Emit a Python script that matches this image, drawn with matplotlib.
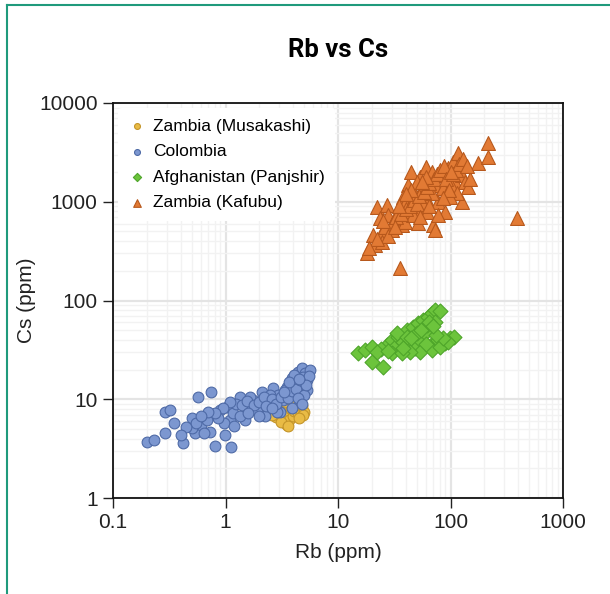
import numpy as np
import matplotlib
matplotlib.use("Agg")
import matplotlib.pyplot as plt
from matplotlib.lines import Line2D
from matplotlib.ticker import LogLocator, FixedLocator, NullFormatter

plt.rcParams['font.family'] = ['Liberation Sans', 'DejaVu Sans']

# Zambia (Musakashi)
musakashi_rb = [1.65, 1.9, 2.1, 2.2, 2.4, 2.5, 2.7, 2.8, 2.9, 3.0, 3.2, 3.3, 3.4, 3.5,
                3.6, 3.7, 3.8, 3.9, 4.0, 4.1, 4.3, 4.4, 4.6, 4.8, 5.0, 4.9, 3.1, 2.6,
                3.4, 4.2, 1.8, 2.3, 3.6, 4.5]
musakashi_cs = [8.4, 7.6, 8.2, 6.9, 7.3, 8.6, 7.9, 6.6, 9.2, 7.2, 8.5, 6.4, 5.8, 5.5,
                7.0, 6.1, 8.0, 9.0, 6.8, 7.6, 8.3, 7.2, 7.9, 8.6, 7.5, 6.9, 5.9, 7.0,
                9.3, 9.5, 8.9, 7.8, 5.3, 6.4]

# Colombia
colombia_rb = [0.20, 0.23, 0.29, 0.29, 0.32, 0.42, 0.50, 0.54, 0.57, 0.61, 0.75, 0.73,
               0.81, 0.75, 0.89, 0.99, 1.13, 1.03, 1.10, 1.17, 1.35, 1.49, 1.65, 1.77,
               2.1, 2.32, 2.24, 2.66, 2.95, 3.05, 3.5, 3.74, 3.88, 4.29, 4.44, 4.76,
               5.09, 5.6, 4.92, 4.59, 3.88, 2.85, 3.26, 5.27, 4.29, 1.35, 0.96, 0.86,
               0.68, 0.64, 0.50, 0.55, 1.65, 2.49, 1.89, 4.0,
               1.25, 1.4, 1.55, 1.8, 2.0, 2.2, 2.6, 2.8, 3.1, 3.4, 3.6, 3.9, 4.2, 4.6,
               4.9, 5.3, 4.1, 3.7, 3.3, 2.3, 1.1, 0.95, 0.8, 0.7, 0.6, 0.45, 0.4, 0.35,
               1.2, 1.6, 2.0, 2.6, 5.0, 4.4, 4.8, 5.5, 5.2, 4.5]
colombia_cs = [3.7, 3.9, 4.5, 7.5, 7.8, 3.6, 6.4, 4.5, 10.6, 5.5, 11.9, 4.7,
               3.4, 6.9, 7.8, 4.3, 3.3, 8.4, 6.2, 7.2, 10.6, 6.2, 8.4, 9.8,
               11.9, 9.8, 6.7, 12.9, 11.0, 7.5, 13.4, 11.5, 16.3, 14.5, 19.0, 20.5,
               18.3, 20.0, 13.4, 9.4, 8.1, 7.5, 9.8, 12.4, 11.5, 6.7, 5.7, 6.4,
               6.2, 4.5, 5.1, 5.7, 10.6, 11.0, 7.8, 13.4,
               9.0, 8.8, 9.5, 8.7, 9.3, 10.5, 10.0, 9.0, 10.5, 12.3, 10.4, 12.0, 12.8, 15.5,
               16.8, 15.8, 17.5, 14.8, 11.8, 8.6, 9.3, 8.2, 7.3, 7.5, 6.7, 5.2, 4.3, 5.7,
               5.4, 7.3, 6.8, 8.2, 11.0, 10.2, 8.9, 17.0, 14.0, 16.0]

# Afghanistan (Panjshir)
panjshir_rb = [15.1, 17.4, 19.9, 19.9, 25.3, 27.1, 30.0, 32.1, 34.4, 38.0, 40.8, 43.6,
               46.7, 48.3, 51.7, 53.5, 57.3, 59.3, 63.5, 68.0, 72.8, 80.0, 53.5, 43.6,
               70.3, 78.0, 89.3, 99.0, 108.0, 68.0, 80.7, 50.0, 33.2, 30.0, 36.8, 61.4,
               72.8, 40.8, 45.0, 55.0, 65.0, 38.0, 60.0, 95.0, 85.0, 75.0, 70.0, 24.0,
               22.0, 28.0]
panjshir_cs = [29.2, 31.5, 34.1, 24.0, 21.4, 35.4, 39.8, 34.1, 43.0, 38.3, 50.2, 36.9,
               54.3, 32.8, 58.7, 39.8, 63.5, 46.5, 68.6, 74.0, 80.0, 78.0, 30.3, 30.3,
               36.9, 39.8, 36.9, 41.4, 43.0, 31.5, 34.1, 46.5, 46.5, 29.2, 29.2, 56.5,
               61.0, 43.0, 42.0, 50.0, 60.0, 33.0, 36.0, 38.0, 42.0, 45.0, 55.0, 32.0,
               30.0, 31.0]

# Zambia (Kafubu)
kafubu_rb = [18.0, 35.6, 22.0, 27.0, 23.6, 28.0, 32.0, 24.5, 30.0, 36.8, 42.0, 43.6,
             42.0, 45.0, 53.5, 61.0, 68.0, 48.0, 55.5, 61.0, 73.0, 51.7, 61.4, 70.0,
             72.8, 51.7, 78.0, 86.0, 83.5, 95.6, 106.0, 117.0, 110.0, 102.0, 126.0, 135.0,
             144.0, 126.0, 114.0, 99.0, 89.0, 78.0, 68.0, 177.0, 217.0, 217.0, 20.6, 21.3,
             24.5, 39.4, 34.4, 46.7, 55.5, 50.0, 38.0, 39.4, 387.0,
             30.0, 33.0, 36.0, 40.0, 44.0, 47.0, 50.0, 52.0, 58.0, 62.0, 65.0, 72.0,
             76.0, 80.0, 88.0, 92.0, 96.0, 105.0, 112.0, 120.0, 130.0, 60.0, 56.0, 45.0,
             40.0, 35.0, 26.0, 28.0, 22.0, 19.0, 25.0, 32.0, 54.0, 64.0, 85.0, 100.0,
             150.0, 140.0]
kafubu_cs = [300, 212, 890, 930, 680, 734, 680, 497, 517, 582, 764, 1000,
             1480, 2000, 1790, 2260, 2010, 1170, 1370, 1084, 1480, 825, 793, 582,
             517, 605, 1000, 1368, 1866, 2180, 2550, 3100, 1600, 1480, 1866, 1600,
             1420, 1000, 1218, 1125, 793, 734, 1218, 2450, 2860, 3900, 460, 365,
             394, 628, 793, 734, 1000, 1596, 1125, 964, 680,
             600, 700, 750, 850, 900, 1050, 950, 1150, 1250, 1400, 1550, 1700,
             1900, 2100, 2300, 1700, 1300, 1900, 2100, 2400, 2700, 1800, 1600, 1300,
             1200, 900, 560, 450, 420, 340, 640, 560, 700, 900, 1100, 2000,
             1700, 2300]

x_ticks = [0.1, 1, 10, 100, 1000]
x_tick_labels = ['0.1', '1', '10', '100', '1000']
y_ticks = [1, 10, 100, 1000, 10000]
y_tick_labels = ['1', '10', '100', '1000', '10000']

fig = plt.figure(figsize=(6.1, 5.94), dpi=100)
ax = fig.add_axes([113 / 610, 1 - 498 / 594, 450 / 610, 395 / 594])

ax.scatter(musakashi_rb, musakashi_cs, s=60, marker='o', facecolor='#e9bb45',
           edgecolor='#c4952a', linewidth=0.8, label='Zambia (Musakashi)', zorder=3)
ax.scatter(colombia_rb, colombia_cs, s=60, marker='o', facecolor='#7c97d0',
           edgecolor='#4e6aa6', linewidth=0.8, label='Colombia', zorder=3)
ax.scatter(panjshir_rb, panjshir_cs, s=58, marker='D', facecolor='#6cc43c',
           edgecolor='#4ea52a', linewidth=0.8, label='Afghanistan (Panjshir)', zorder=3)
ax.scatter(kafubu_rb, kafubu_cs, s=100, marker='^', facecolor='#e27a34',
           edgecolor='#b7581c', linewidth=0.8, label='Zambia (Kafubu)', zorder=3)

ax.set_xscale('log')
ax.set_yscale('log')
ax.set_xlim(0.1, 1000)
ax.set_ylim(1, 10000)

ax.xaxis.set_major_locator(FixedLocator(x_ticks))
ax.yaxis.set_major_locator(FixedLocator(y_ticks))
ax.set_xticklabels(x_tick_labels)
ax.set_yticklabels(y_tick_labels)
ax.xaxis.set_minor_locator(LogLocator(base=10, subs=np.arange(2, 10)))
ax.yaxis.set_minor_locator(LogLocator(base=10, subs=np.arange(2, 10)))
ax.xaxis.set_minor_formatter(NullFormatter())
ax.yaxis.set_minor_formatter(NullFormatter())

ax.grid(True, which='major', color='#e4e4e4', linewidth=1.6, zorder=0)
ax.grid(True, which='minor', color='#f2f2f2', linewidth=1.0, zorder=0)
ax.set_axisbelow(True)

ax.tick_params(which='major', direction='out', length=7, width=1, labelsize=15,
               pad=4, colors='#222222')
ax.tick_params(which='minor', length=0)
for sp in ax.spines.values():
    sp.set_color('#111111')
    sp.set_linewidth(1.3)

ax.set_xlabel('Rb (ppm)', fontsize=15, labelpad=8, color='#222222')
ax.set_ylabel('Cs (ppm)', fontsize=15, labelpad=2, color='#222222')

leg = ax.legend(loc='upper left', fontsize=12.5, frameon=True, markerscale=0.55,
                handletextpad=0.4, labelspacing=0.6, borderpad=0.6,
                borderaxespad=0.3, handlelength=1.0)
leg.get_frame().set_facecolor('white')
leg.get_frame().set_edgecolor('none')
leg.get_frame().set_alpha(1)

fig.text(338 / 610, 1 - 50 / 594, 'Rb vs Cs', ha='center', va='center',
         fontsize=18.5, fontweight='bold', family=['Roboto', 'DejaVu Sans'])

# teal frame around the figure
fig.add_artist(Line2D([7 / 610, 7 / 610], [0, 1 - 5 / 594], color='#1f9a7c',
                      linewidth=1.5, transform=fig.transFigure))
fig.add_artist(Line2D([7 / 610, 1], [1 - 5 / 594, 1 - 5 / 594], color='#1f9a7c',
                      linewidth=1.5, transform=fig.transFigure))

fig.savefig('out.png', dpi=100)
